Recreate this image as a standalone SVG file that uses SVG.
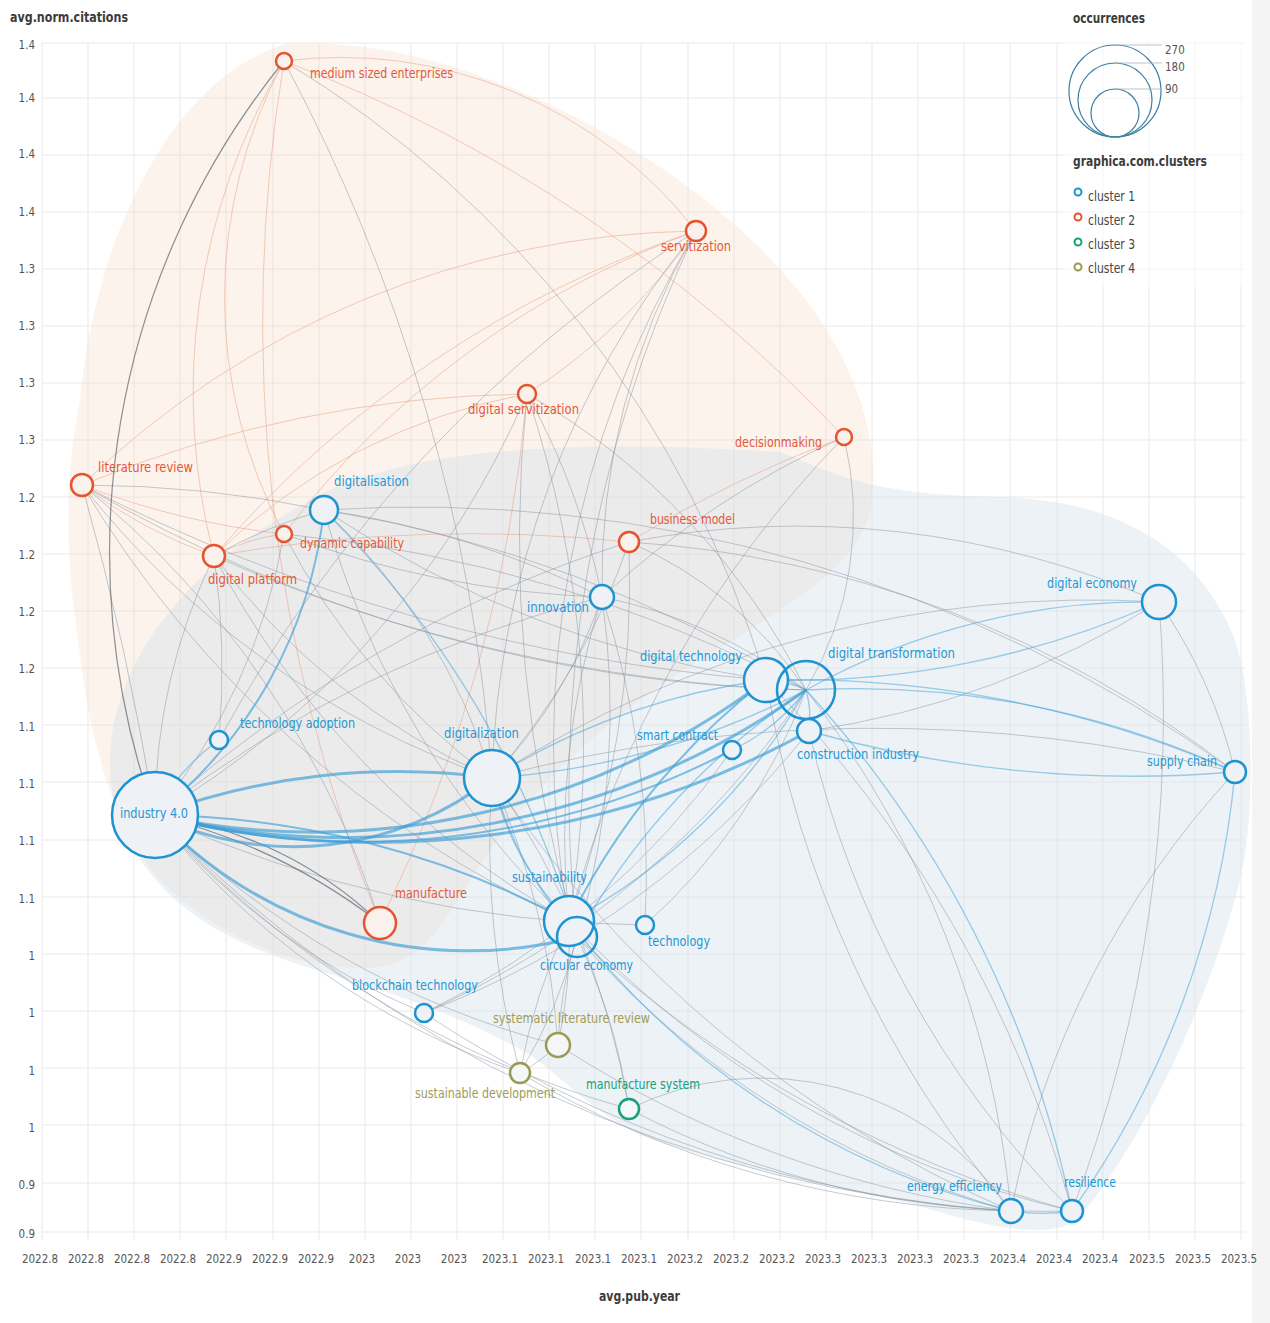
<svg xmlns="http://www.w3.org/2000/svg" width="1270" height="1323" viewBox="0 0 1270 1323">
<style>
text{font-family:"Liberation Sans Narrow","DejaVu Sans Condensed","Liberation Sans",sans-serif}
.tick{font-size:11.5px;fill:#555}
.ttl{font-size:13.5px;font-weight:bold;fill:#3c3c3c}
.lb{font-size:14px}
.grid line{stroke:#e9e9e9;stroke-width:1}
#edges path{fill:none}
.e{stroke:#7e8c9a;stroke-opacity:.45;stroke-width:1}
.d{stroke:#4f5b66;stroke-opacity:.65;stroke-width:1.2}
.r{stroke:#e89c80;stroke-opacity:.5;stroke-width:1}
.b{stroke:#3ea2da;stroke-opacity:.5;stroke-width:1.3}
.bm{stroke:#3ea0d8;stroke-opacity:.65;stroke-width:2}
.bt{stroke:#3a9dd6;stroke-opacity:.65;stroke-width:3}
.n1 circle{stroke:#1d93d2;fill:#eef1f5;stroke-width:2.5}
.n2 circle{stroke:#e6532f;fill:#faf1ec;stroke-width:2.5}
.n3 circle{stroke:#17a079;fill:#f4f6f8;stroke-width:2.5}
.n4 circle{stroke:#9b9a52;fill:#f4f6f8;stroke-width:2.5}
.n1 text{fill:#2497d4}
.n2 text{fill:#e4583a}
.n3 text{fill:#17a079}
.n4 text{fill:#a09c55}
</style>
<rect width="1270" height="1323" fill="#ffffff"/>
<rect x="1252" y="0" width="18" height="1323" fill="#f4f4f4"/>
<g class="grid">
<line x1="42" y1="43" x2="42" y2="1240"/><line x1="88" y1="43" x2="88" y2="1240"/><line x1="134" y1="43" x2="134" y2="1240"/><line x1="180" y1="43" x2="180" y2="1240"/><line x1="226" y1="43" x2="226" y2="1240"/><line x1="273" y1="43" x2="273" y2="1240"/><line x1="319" y1="43" x2="319" y2="1240"/><line x1="365" y1="43" x2="365" y2="1240"/><line x1="411" y1="43" x2="411" y2="1240"/><line x1="457" y1="43" x2="457" y2="1240"/><line x1="503" y1="43" x2="503" y2="1240"/><line x1="549" y1="43" x2="549" y2="1240"/><line x1="595" y1="43" x2="595" y2="1240"/><line x1="641" y1="43" x2="641" y2="1240"/><line x1="688" y1="43" x2="688" y2="1240"/><line x1="734" y1="43" x2="734" y2="1240"/><line x1="780" y1="43" x2="780" y2="1240"/><line x1="826" y1="43" x2="826" y2="1240"/><line x1="872" y1="43" x2="872" y2="1240"/><line x1="918" y1="43" x2="918" y2="1240"/><line x1="964" y1="43" x2="964" y2="1240"/><line x1="1010" y1="43" x2="1010" y2="1240"/><line x1="1057" y1="43" x2="1057" y2="1240"/><line x1="1103" y1="43" x2="1103" y2="1240"/><line x1="1149" y1="43" x2="1149" y2="1240"/><line x1="1195" y1="43" x2="1195" y2="1240"/><line x1="1241" y1="43" x2="1241" y2="1240"/>
<line x1="42" y1="43" x2="1245" y2="43"/><line x1="42" y1="98" x2="1245" y2="98"/><line x1="42" y1="155" x2="1245" y2="155"/><line x1="42" y1="212" x2="1245" y2="212"/><line x1="42" y1="269" x2="1245" y2="269"/><line x1="42" y1="326" x2="1245" y2="326"/><line x1="42" y1="383" x2="1245" y2="383"/><line x1="42" y1="440" x2="1245" y2="440"/><line x1="42" y1="497" x2="1245" y2="497"/><line x1="42" y1="554" x2="1245" y2="554"/><line x1="42" y1="611" x2="1245" y2="611"/><line x1="42" y1="668" x2="1245" y2="668"/><line x1="42" y1="725" x2="1245" y2="725"/><line x1="42" y1="782" x2="1245" y2="782"/><line x1="42" y1="840" x2="1245" y2="840"/><line x1="42" y1="897" x2="1245" y2="897"/><line x1="42" y1="954" x2="1245" y2="954"/><line x1="42" y1="1011" x2="1245" y2="1011"/><line x1="42" y1="1068" x2="1245" y2="1068"/><line x1="42" y1="1125" x2="1245" y2="1125"/><line x1="42" y1="1183" x2="1245" y2="1183"/><line x1="42" y1="1232" x2="1245" y2="1232"/>
</g>
<g id="hulls">
<path d="M285,44 C360,40 440,55 540,100 C650,150 760,230 820,320 C860,380 878,440 872,500 C866,560 800,600 700,660 C600,720 520,800 470,880 C440,930 420,965 370,968 C300,970 220,940 160,880 C110,820 90,740 78,640 C66,560 64,480 80,400 C95,240 170,80 285,44 Z" fill="#f6d9c4" fill-opacity="0.32"/>
<path d="M110,770 C108,660 190,560 330,490 C430,445 600,440 780,452 C830,470 860,495 1000,497 C1120,500 1200,550 1235,640 C1255,700 1255,820 1240,880 C1210,1000 1140,1150 1075,1222 C1040,1240 980,1225 909,1203 C850,1190 720,1165 640,1135 C590,1110 560,1075 530,1055 C470,1020 400,995 333,975 C260,955 190,925 150,873 C125,840 111,810 110,770 Z" fill="#d3dfea" fill-opacity="0.42"/>
</g>
<g id="edges">
<path class="r" d="M284 61A650 650 0 0 0 214 556"/>
<path class="r" d="M284 61A500 500 0 0 0 284 534"/>
<path class="r" d="M284 61A450 450 0 0 1 696 231"/>
<path class="r" d="M284 61A1500 1500 0 0 1 844 437"/>
<path class="r" d="M284 61A1600 1600 0 0 0 380 923"/>
<path class="r" d="M82 485A900 900 0 0 1 696 231"/>
<path class="r" d="M696 231A1100 1100 0 0 0 214 556"/>
<path class="r" d="M696 231A900 900 0 0 0 284 534"/>
<path class="r" d="M527 394A1200 1200 0 0 0 82 485"/>
<path class="r" d="M527 394A600 600 0 0 0 214 556"/>
<path class="r" d="M527 394A1500 1500 0 0 1 380 923"/>
<path class="r" d="M527 394A600 600 0 0 0 696 231"/>
<path class="r" d="M844 437A1200 1200 0 0 0 629 542"/>
<path class="r" d="M82 485A500 500 0 0 0 214 556"/>
<path class="r" d="M82 485A800 800 0 0 0 284 534"/>
<path class="r" d="M214 556A1500 1500 0 0 1 629 542"/>
<path class="r" d="M284 534A200 200 0 0 0 214 556"/>
<path class="e" d="M284 61A1800 1800 0 0 1 492 778"/>
<path class="e" d="M284 61A1100 1100 0 0 1 766 680"/>
<path class="e" d="M696 231A900 900 0 0 0 492 778"/>
<path class="e" d="M696 231A1000 1000 0 0 0 569 921"/>
<path class="e" d="M696 231A1300 1300 0 0 0 577 937"/>
<path class="e" d="M696 231A700 700 0 0 0 602 597"/>
<path class="e" d="M696 231A1400 1400 0 0 0 219 740"/>
<path class="e" d="M527 394A700 700 0 0 1 602 597"/>
<path class="e" d="M527 394A1100 1100 0 0 1 569 921"/>
<path class="e" d="M527 394A700 700 0 0 1 806 690"/>
<path class="e" d="M527 394A1400 1400 0 0 0 577 937"/>
<path class="e" d="M527 394A900 900 0 0 1 155 815"/>
<path class="e" d="M844 437A340 340 0 0 1 806 690"/>
<path class="e" d="M844 437A900 900 0 0 0 602 597"/>
<path class="e" d="M844 437A1100 1100 0 0 0 569 921"/>
<path class="e" d="M82 485A3000 3000 0 0 1 155 815"/>
<path class="e" d="M82 485A1200 1200 0 0 1 324 510"/>
<path class="e" d="M82 485A1800 1800 0 0 0 766 680"/>
<path class="e" d="M82 485A1500 1500 0 0 0 806 690"/>
<path class="e" d="M82 485A900 900 0 0 0 492 778"/>
<path class="e" d="M82 485A1100 1100 0 0 0 569 921"/>
<path class="e" d="M82 485A900 900 0 0 1 380 923"/>
<path class="e" d="M284 534A1400 1400 0 0 1 806 690"/>
<path class="e" d="M284 534A1000 1000 0 0 0 602 597"/>
<path class="e" d="M284 534A700 700 0 0 0 492 778"/>
<path class="e" d="M284 534A600 600 0 0 1 155 815"/>
<path class="e" d="M324 510A1300 1300 0 0 1 806 690"/>
<path class="e" d="M324 510A1100 1100 0 0 0 766 680"/>
<path class="e" d="M324 510A900 900 0 0 0 569 921"/>
<path class="e" d="M324 510A900 900 0 0 1 602 597"/>
<path class="e" d="M324 510A600 600 0 0 1 492 778"/>
<path class="e" d="M324 510A1400 1400 0 0 1 1235 772"/>
<path class="e" d="M214 556A1600 1600 0 0 0 806 690"/>
<path class="e" d="M214 556A800 800 0 0 1 219 740"/>
<path class="e" d="M214 556A700 700 0 0 0 492 778"/>
<path class="e" d="M214 556A900 900 0 0 0 569 921"/>
<path class="e" d="M214 556A600 600 0 0 0 155 815"/>
<path class="e" d="M214 556A500 500 0 0 1 324 510"/>
<path class="e" d="M629 542A400 400 0 0 1 806 690"/>
<path class="e" d="M629 542A900 900 0 0 1 1159 602"/>
<path class="e" d="M629 542A1100 1100 0 0 1 1235 772"/>
<path class="e" d="M629 542A1000 1000 0 0 1 569 921"/>
<path class="e" d="M629 542A700 700 0 0 1 492 778"/>
<path class="e" d="M629 542A1300 1300 0 0 0 155 815"/>
<path class="e" d="M602 597A500 500 0 0 1 806 690"/>
<path class="e" d="M602 597A800 800 0 0 0 569 921"/>
<path class="e" d="M602 597A800 800 0 0 1 577 937"/>
<path class="e" d="M602 597A1200 1200 0 0 0 155 815"/>
<path class="e" d="M602 597A900 900 0 0 1 645 925"/>
<path class="e" d="M602 597A500 500 0 0 1 492 778"/>
<path class="e" d="M806 690A1000 1000 0 0 1 1011 1211"/>
<path class="e" d="M766 680A1200 1200 0 0 1 1072 1211"/>
<path class="e" d="M766 680A1100 1100 0 0 0 1011 1211"/>
<path class="e" d="M809 731A900 900 0 0 0 1159 602"/>
<path class="e" d="M809 731A1000 1000 0 0 0 1072 1211"/>
<path class="e" d="M809 731A900 900 0 0 1 424 1013"/>
<path class="e" d="M732 750A800 800 0 0 1 424 1013"/>
<path class="e" d="M492 778A800 800 0 0 1 558 1045"/>
<path class="e" d="M492 778A900 900 0 0 0 520 1073"/>
<path class="e" d="M492 778A800 800 0 0 1 629 1109"/>
<path class="e" d="M492 778A1200 1200 0 0 0 1011 1211"/>
<path class="e" d="M492 778A1100 1100 0 0 1 1159 602"/>
<path class="e" d="M492 778A1500 1500 0 0 1 1235 772"/>
<path class="e" d="M155 815A700 700 0 0 0 424 1013"/>
<path class="e" d="M155 815A900 900 0 0 0 558 1045"/>
<path class="e" d="M155 815A800 800 0 0 0 520 1073"/>
<path class="e" d="M155 815A1000 1000 0 0 0 629 1109"/>
<path class="e" d="M155 815A1200 1200 0 0 0 645 925"/>
<path class="e" d="M155 815A1300 1300 0 0 0 1011 1211"/>
<path class="e" d="M569 921A500 500 0 0 1 558 1045"/>
<path class="e" d="M569 921A600 600 0 0 0 520 1073"/>
<path class="e" d="M577 937A500 500 0 0 1 520 1073"/>
<path class="e" d="M577 937A400 400 0 0 0 558 1045"/>
<path class="e" d="M569 921A600 600 0 0 1 629 1109"/>
<path class="e" d="M569 921A1000 1000 0 0 0 1072 1211"/>
<path class="e" d="M577 937A900 900 0 0 0 1011 1211"/>
<path class="e" d="M577 937A1200 1200 0 0 0 1072 1211"/>
<path class="e" d="M645 925A600 600 0 0 0 806 690"/>
<path class="e" d="M424 1013A1200 1200 0 0 0 1011 1211"/>
<path class="e" d="M424 1013A900 900 0 0 0 806 690"/>
<path class="e" d="M629 1109A300 300 0 0 1 1011 1211"/>
<path class="e" d="M629 1109A900 900 0 0 0 1072 1211"/>
<path class="e" d="M520 1073A1000 1000 0 0 0 1011 1211"/>
<path class="e" d="M558 1045A1100 1100 0 0 0 1011 1211"/>
<path class="e" d="M558 1045A200 200 0 0 1 520 1073"/>
<path class="e" d="M1159 602A1400 1400 0 0 1 1072 1211"/>
<path class="e" d="M1159 602A500 500 0 0 1 1235 772"/>
<path class="e" d="M1235 772A900 900 0 0 0 1011 1211"/>
<path class="d" d="M284 61A780 780 0 0 0 155 815"/>
<path class="d" d="M155 815A400 400 0 0 1 380 923"/>
<path class="d" d="M155 815A600 600 0 0 1 380 923"/>
<path class="b" d="M766 680A1100 1100 0 0 1 1235 772"/>
<path class="b" d="M806 690A900 900 0 0 1 1235 772"/>
<path class="b" d="M806 690A700 700 0 0 1 1159 602"/>
<path class="b" d="M766 680A900 900 0 0 0 1159 602"/>
<path class="b" d="M806 690A100 100 0 0 1 809 731"/>
<path class="b" d="M766 680A100 100 0 0 1 806 690"/>
<path class="b" d="M806 690A1100 1100 0 0 1 1072 1211"/>
<path class="b" d="M1011 1211A200 200 0 0 0 1072 1211"/>
<path class="b" d="M1072 1211A900 900 0 0 0 1235 772"/>
<path class="b" d="M766 680A700 700 0 0 0 492 778"/>
<path class="b" d="M806 690A800 800 0 0 1 492 778"/>
<path class="b" d="M806 690A600 600 0 0 1 569 921"/>
<path class="b" d="M806 690A700 700 0 0 0 577 937"/>
<path class="b" d="M569 921A60 60 0 0 1 577 937"/>
<path class="b" d="M324 510A1000 1000 0 0 1 577 937"/>
<path class="b" d="M155 815A200 200 0 0 1 219 740"/>
<path class="b" d="M809 731A1200 1200 0 0 0 1235 772"/>
<path class="b" d="M732 750A200 200 0 0 0 806 690"/>
<path class="b" d="M569 921A800 800 0 0 0 1011 1211"/>
<path class="b" d="M492 778A300 300 0 0 0 569 921"/>
<path class="b" d="M492 778A400 400 0 0 0 577 937"/>
<path class="bm" d="M766 680A700 700 0 0 0 569 921"/>
<path class="bm" d="M324 510A452 452 0 0 1 155 815"/>
<path class="bm" d="M155 815A800 800 0 0 0 732 750"/>
<path class="bm" d="M155 815A900 900 0 0 1 569 921"/>
<path class="bt" d="M155 815A700 700 0 0 1 492 778"/>
<path class="bt" d="M155 815A320 320 0 0 0 492 778"/>
<path class="bt" d="M155 815A750 750 0 0 0 766 680"/>
<path class="bt" d="M155 815A800 800 0 0 0 806 690"/>
<path class="bt" d="M155 815A900 900 0 0 0 809 731"/>
<path class="bt" d="M155 815A430 430 0 0 0 577 937"/>
</g>
<g id="n-mse" class="n2"><circle cx="284" cy="61" r="8"/><text class="lb" x="310" y="78" textLength="143" lengthAdjust="spacingAndGlyphs">medium sized enterprises</text></g>
<g id="n-ser" class="n2"><circle cx="696" cy="231" r="10"/><text class="lb" x="661" y="251" textLength="70" lengthAdjust="spacingAndGlyphs">servitization</text></g>
<g id="n-dsv" class="n2"><circle cx="527" cy="394" r="9"/><text class="lb" x="468" y="414" textLength="111" lengthAdjust="spacingAndGlyphs">digital servitization</text></g>
<g id="n-dec" class="n2"><circle cx="844" cy="437" r="8"/><text class="lb" x="735" y="447" textLength="87" lengthAdjust="spacingAndGlyphs">decisionmaking</text></g>
<g id="n-lit" class="n2"><circle cx="82" cy="485" r="11"/><text class="lb" x="98" y="472" textLength="95" lengthAdjust="spacingAndGlyphs">literature review</text></g>
<g id="n-dyn" class="n2"><circle cx="284" cy="534" r="8"/><text class="lb" x="300" y="548" textLength="104" lengthAdjust="spacingAndGlyphs">dynamic capability</text></g>
<g id="n-dpl" class="n2"><circle cx="214" cy="556" r="11"/><text class="lb" x="208" y="584" textLength="89" lengthAdjust="spacingAndGlyphs">digital platform</text></g>
<g id="n-bm" class="n2"><circle cx="629" cy="542" r="10"/><text class="lb" x="650" y="524" textLength="85" lengthAdjust="spacingAndGlyphs">business model</text></g>
<g id="n-man" class="n2"><circle cx="380" cy="923" r="16"/><text class="lb" x="395" y="898" textLength="72" lengthAdjust="spacingAndGlyphs">manufacture</text></g>
<g id="n-dgs" class="n1"><circle cx="324" cy="510" r="14"/><text class="lb" x="334" y="486" textLength="75" lengthAdjust="spacingAndGlyphs">digitalisation</text></g>
<g id="n-inn" class="n1"><circle cx="602" cy="597" r="12"/><text class="lb" x="527" y="612" textLength="62" lengthAdjust="spacingAndGlyphs">innovation</text></g>
<g id="n-dec2" class="n1"><circle cx="1159" cy="602" r="17"/><text class="lb" x="1047" y="588" textLength="90" lengthAdjust="spacingAndGlyphs">digital economy</text></g>
<g id="n-dte" class="n1"><circle cx="766" cy="680" r="22"/><text class="lb" x="640" y="661" textLength="102" lengthAdjust="spacingAndGlyphs">digital technology</text></g>
<g id="n-dtr" class="n1"><circle cx="806" cy="690" r="29" fill-opacity="0"/><text class="lb" x="828" y="658" textLength="127" lengthAdjust="spacingAndGlyphs">digital transformation</text></g>
<g id="n-con" class="n1"><circle cx="809" cy="731" r="12"/><text class="lb" x="797" y="759" textLength="122" lengthAdjust="spacingAndGlyphs">construction industry</text></g>
<g id="n-smc" class="n1"><circle cx="732" cy="750" r="9"/><text class="lb" x="637" y="740" textLength="81" lengthAdjust="spacingAndGlyphs">smart contract</text></g>
<g id="n-tad" class="n1"><circle cx="219" cy="740" r="9"/><text class="lb" x="240" y="728" textLength="115" lengthAdjust="spacingAndGlyphs">technology adoption</text></g>
<g id="n-sup" class="n1"><circle cx="1235" cy="772" r="11"/><text class="lb" x="1147" y="766" textLength="70" lengthAdjust="spacingAndGlyphs">supply chain</text></g>
<g id="n-dgz" class="n1"><circle cx="492" cy="778" r="28"/><text class="lb" x="444" y="738" textLength="75" lengthAdjust="spacingAndGlyphs">digitalization</text></g>
<g id="n-i40" class="n1"><circle cx="155" cy="815" r="43"/><text class="lb" x="120" y="818" textLength="68" lengthAdjust="spacingAndGlyphs">industry 4.0</text></g>
<g id="n-sus" class="n1"><circle cx="569" cy="921" r="25"/><text class="lb" x="512" y="882" textLength="75" lengthAdjust="spacingAndGlyphs">sustainability</text></g>
<g id="n-ce" class="n1"><circle cx="577" cy="937" r="20" fill-opacity="0"/><text class="lb" x="540" y="970" textLength="93" lengthAdjust="spacingAndGlyphs">circular economy</text></g>
<g id="n-tec" class="n1"><circle cx="645" cy="925" r="9"/><text class="lb" x="648" y="946" textLength="62" lengthAdjust="spacingAndGlyphs">technology</text></g>
<g id="n-bct" class="n1"><circle cx="424" cy="1013" r="9"/><text class="lb" x="352" y="990" textLength="126" lengthAdjust="spacingAndGlyphs">blockchain technology</text></g>
<g id="n-ee" class="n1"><circle cx="1011" cy="1211" r="12"/><text class="lb" x="907" y="1191" textLength="95" lengthAdjust="spacingAndGlyphs">energy efficiency</text></g>
<g id="n-res" class="n1"><circle cx="1072" cy="1211" r="11"/><text class="lb" x="1064" y="1187" textLength="52" lengthAdjust="spacingAndGlyphs">resilience</text></g>
<g id="n-slr" class="n4"><circle cx="558" cy="1045" r="12"/><text class="lb" x="493" y="1023" textLength="157" lengthAdjust="spacingAndGlyphs">systematic literature review</text></g>
<g id="n-sd" class="n4"><circle cx="520" cy="1073" r="10"/><text class="lb" x="415" y="1098" textLength="140" lengthAdjust="spacingAndGlyphs">sustainable development</text></g>
<g id="n-ms" class="n3"><circle cx="629" cy="1109" r="10"/><text class="lb" x="586" y="1089" textLength="114" lengthAdjust="spacingAndGlyphs">manufacture system</text></g>
<g id="axes">
<text class="ttl" x="10" y="22" textLength="118" lengthAdjust="spacingAndGlyphs">avg.norm.citations</text>
<text class="ttl" x="599" y="1301" textLength="81" lengthAdjust="spacingAndGlyphs">avg.pub.year</text>
<g class="tick" text-anchor="end">
<text x="35" y="49">1.4</text><text x="35" y="102">1.4</text><text x="35" y="158">1.4</text><text x="35" y="216">1.4</text><text x="35" y="273">1.3</text><text x="35" y="330">1.3</text><text x="35" y="387">1.3</text><text x="35" y="444">1.3</text><text x="35" y="502">1.2</text><text x="35" y="559">1.2</text><text x="35" y="616">1.2</text><text x="35" y="673">1.2</text><text x="35" y="731">1.1</text><text x="35" y="788">1.1</text><text x="35" y="845">1.1</text><text x="35" y="903">1.1</text><text x="35" y="960">1</text><text x="35" y="1017">1</text><text x="35" y="1075">1</text><text x="35" y="1132">1</text><text x="35" y="1189">0.9</text><text x="35" y="1238">0.9</text>
</g>
<g class="tick" text-anchor="middle">
<text x="40" y="1263">2022.8</text><text x="86" y="1263">2022.8</text><text x="132" y="1263">2022.8</text><text x="178" y="1263">2022.8</text><text x="224" y="1263">2022.9</text><text x="270" y="1263">2022.9</text><text x="316" y="1263">2022.9</text><text x="362" y="1263">2023</text><text x="408" y="1263">2023</text><text x="454" y="1263">2023</text><text x="500" y="1263">2023.1</text><text x="546" y="1263">2023.1</text><text x="593" y="1263">2023.1</text><text x="639" y="1263">2023.1</text><text x="685" y="1263">2023.2</text><text x="731" y="1263">2023.2</text><text x="777" y="1263">2023.2</text><text x="823" y="1263">2023.3</text><text x="869" y="1263">2023.3</text><text x="915" y="1263">2023.3</text><text x="961" y="1263">2023.3</text><text x="1008" y="1263">2023.4</text><text x="1054" y="1263">2023.4</text><text x="1100" y="1263">2023.4</text><text x="1147" y="1263">2023.5</text><text x="1193" y="1263">2023.5</text><text x="1239" y="1263">2023.5</text>
</g>
</g>
<g id="legend">
<rect x="1064" y="4" width="184" height="282" fill="#ffffff" fill-opacity="0.5"/>
<text class="ttl" x="1073" y="23" textLength="72" lengthAdjust="spacingAndGlyphs">occurrences</text>
<g fill="none" stroke="#3f7fa4" stroke-width="1.2">
<circle cx="1115" cy="91" r="46"/><circle cx="1115" cy="100" r="37"/><circle cx="1115" cy="113" r="24"/>
</g>
<g stroke="#aab4bc" stroke-width="0.8">
<line x1="1115" y1="45" x2="1162" y2="45"/><line x1="1115" y1="63" x2="1162" y2="63"/><line x1="1115" y1="89" x2="1162" y2="89"/>
</g>
<g class="tick" fill="#444"><text x="1165" y="54">270</text><text x="1165" y="71">180</text><text x="1165" y="93">90</text></g>
<text class="ttl" x="1073" y="166" textLength="134" lengthAdjust="spacingAndGlyphs">graphica.com.clusters</text>
<circle cx="1078" cy="192" r="3.5" fill="none" stroke="#1d93d2" stroke-width="2"/>
<circle cx="1078" cy="217" r="3.5" fill="none" stroke="#e6532f" stroke-width="2"/>
<circle cx="1078" cy="242" r="3.5" fill="none" stroke="#17a079" stroke-width="2"/>
<circle cx="1078" cy="267" r="3.5" fill="none" stroke="#9b9a52" stroke-width="2"/>
<g font-size="13.5" fill="#444"><text x="1088" y="201" textLength="47" lengthAdjust="spacingAndGlyphs">cluster 1</text><text x="1088" y="225" textLength="47" lengthAdjust="spacingAndGlyphs">cluster 2</text><text x="1088" y="249" textLength="47" lengthAdjust="spacingAndGlyphs">cluster 3</text><text x="1088" y="273" textLength="47" lengthAdjust="spacingAndGlyphs">cluster 4</text></g>
</g>
</svg>
